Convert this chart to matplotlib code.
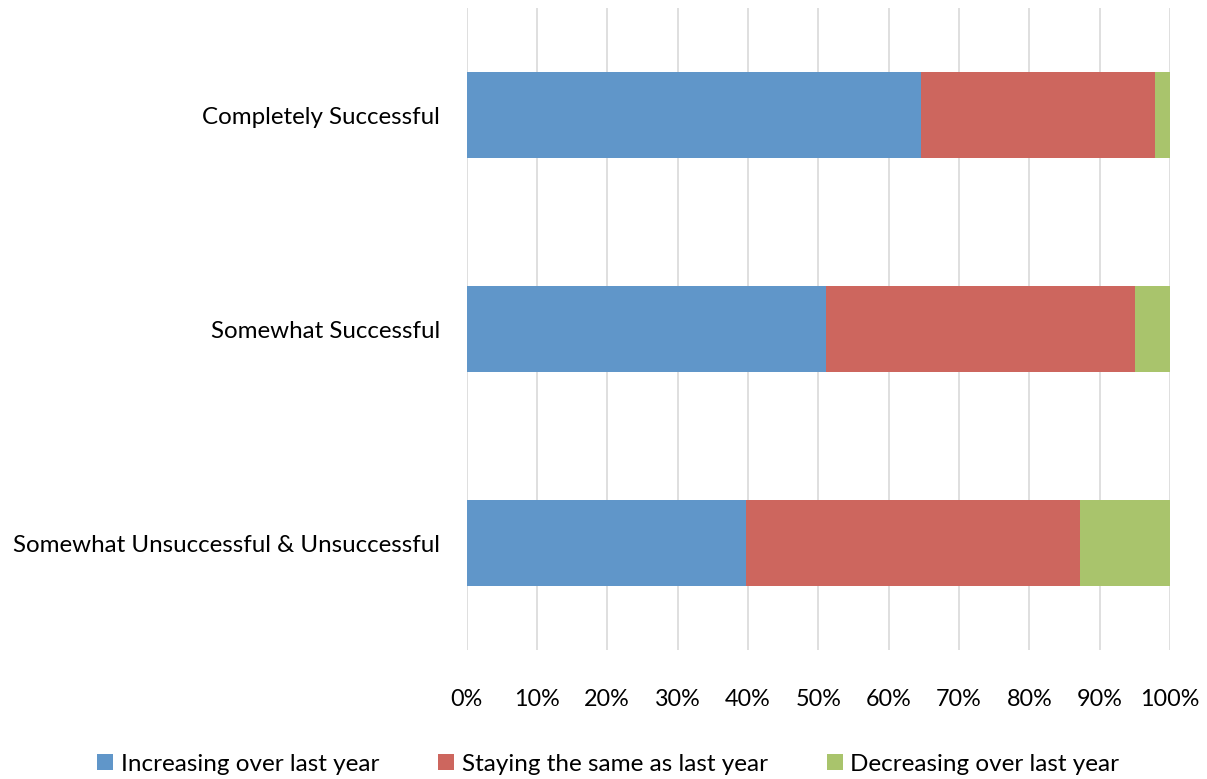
import numpy as np
import matplotlib.pyplot as plt
from matplotlib.ticker import PercentFormatter

categorias = ['Completely Successful', 'Somewhat Successful',
              'Somewhat Unsuccessful & Unsuccessful']
aumentando = [64.6, 51.1, 39.7]
mesmo = [33.2, 43.9, 47.5]
diminuindo = [2.2, 5.0, 12.8]
series = ['Increasing over last year', 'Staying the same as last year',
          'Decreasing over last year']
cores = ['#6096C9', '#CD665E', '#A9C46C']

plt.rcParams['font.family'] = ['Lato', 'DejaVu Sans']

fig = plt.figure(figsize=(12.07, 7.79), dpi=100)
ax = fig.add_axes([0.3865, 0.1656, 0.5829, 0.8241])

y = np.arange(len(categorias))
esquerda = np.zeros(len(categorias))
barras = []
for valores, nome, cor in zip([aumentando, mesmo, diminuindo], series, cores):
    b = ax.barh(y, valores, left=esquerda, height=0.4, color=cor,
                label=nome, edgecolor='none')
    barras.append(b)
    esquerda = esquerda + np.array(valores)

ax.set_ylim(len(categorias) - 0.5, -0.5)
ax.set_xlim(0, 100)
ax.set_yticks(y)
ax.set_yticklabels(categorias, fontsize=17.4)
ax.set_xticks(np.arange(0, 101, 10))
ax.xaxis.set_major_formatter(PercentFormatter(decimals=0))
ax.tick_params(axis='x', labelsize=16.8, length=0, pad=28)
ax.tick_params(axis='y', length=0, pad=19)

ax.set_axisbelow(True)
ax.grid(axis='x', color='#d9d9d9', linewidth=1.2)
for s in ax.spines.values():
    s.set_visible(False)

fig.legend(handles=barras, loc='center', bbox_to_anchor=(0.504, 0.019),
           ncol=3, frameon=False, fontsize=17.5, handlelength=0.65,
           handleheight=0.65, handletextpad=0.3, columnspacing=2.45)

fig.savefig('out.png', dpi=100)
